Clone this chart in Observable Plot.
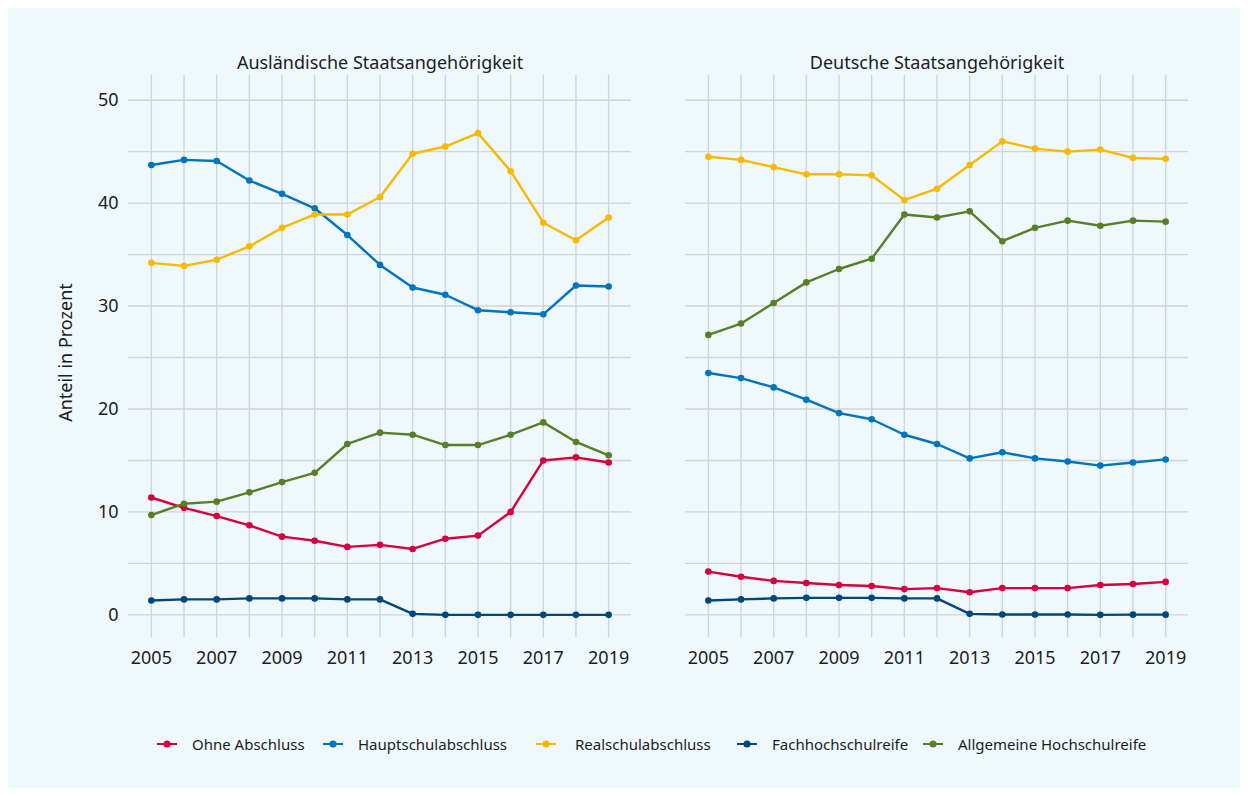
<!DOCTYPE html>
<html><head><meta charset="utf-8">
<script src="https://cdn.jsdelivr.net/npm/d3@7"></script>
<script src="https://cdn.jsdelivr.net/npm/@observablehq/plot@0.6"></script>
<style>
  html, body { margin: 0; padding: 0; background: #ffffff; }
  #panel { position: absolute; left: 8px; top: 8px; width: 1232px; height: 780px; background: #eff8fd; font-family: "Noto Sans", sans-serif; color: #1d1d1b; }
  #chart { position: absolute; left: 0; top: 0; }
  #legend { position: absolute; left: 149px; top: 726px; display: flex; align-items: center; font-size: 15px; height: 20px; }
  .item { display: flex; align-items: center; white-space: nowrap; }
  .item svg { margin-right: 15px; }
  .item:nth-child(1) { width: 166px; }
  .item:nth-child(2) { width: 213px; }
  .item:nth-child(3) { width: 201px; }
  .item:nth-child(3) svg { margin-right: 19px; }
  .item:nth-child(4) { width: 186px; }
</style>
</head><body>
<div id="panel"><div id="chart"></div><div id="legend"></div></div>
<script>
const years = [2005, 2006, 2007, 2008, 2009, 2010, 2011, 2012, 2013, 2014, 2015, 2016, 2017, 2018, 2019];
const xTickLabels = [2005, 2007, 2009, 2011, 2013, 2015, 2017, 2019];
const yGridValues = [0, 5, 10, 15, 20, 25, 30, 35, 40, 45, 50];
const yTickLabels = [0, 10, 20, 30, 40, 50];
const facets = ["Ausländische Staatsangehörigkeit", "Deutsche Staatsangehörigkeit"];
const seriesNames = ["Ohne Abschluss", "Hauptschulabschluss", "Realschulabschluss", "Fachhochschulreife", "Allgemeine Hochschulreife"];
const seriesColors = ["#d6003c", "#0074bc", "#f8b900", "#00477a", "#587e28"];
const yLabel = "Anteil in Prozent";

// Ausländische Staatsangehörigkeit
const auslOhne  = [11.4, 10.4, 9.6, 8.7, 7.6, 7.2, 6.6, 6.8, 6.4, 7.4, 7.7, 10.0, 15.0, 15.3, 14.8];
const auslHaupt = [43.7, 44.2, 44.1, 42.2, 40.9, 39.5, 36.9, 34.0, 31.8, 31.1, 29.6, 29.4, 29.2, 32.0, 31.9];
const auslReal  = [34.2, 33.9, 34.5, 35.8, 37.6, 38.9, 38.9, 40.6, 44.8, 45.5, 46.8, 43.1, 38.1, 36.4, 38.6];
const auslFach  = [1.4, 1.5, 1.5, 1.6, 1.6, 1.6, 1.5, 1.5, 0.1, 0.0, 0.0, 0.0, 0.0, 0.0, 0.0];
const auslAllg  = [9.7, 10.8, 11.0, 11.9, 12.9, 13.8, 16.6, 17.7, 17.5, 16.5, 16.5, 17.5, 18.7, 16.8, 15.5];

// Deutsche Staatsangehörigkeit
const deOhne  = [4.2, 3.7, 3.3, 3.1, 2.9, 2.8, 2.5, 2.6, 2.2, 2.6, 2.6, 2.6, 2.9, 3.0, 3.2];
const deHaupt = [23.5, 23.0, 22.1, 20.9, 19.6, 19.0, 17.5, 16.6, 15.2, 15.8, 15.2, 14.9, 14.5, 14.8, 15.1];
const deReal  = [44.5, 44.2, 43.5, 42.8, 42.8, 42.7, 40.3, 41.4, 43.7, 46.0, 45.3, 45.0, 45.2, 44.4, 44.3];
const deFach  = [1.4, 1.5, 1.6, 1.65, 1.65, 1.65, 1.6, 1.6, 0.1, 0.03, 0.03, 0.03, 0.0, 0.02, 0.02];
const deAllg  = [27.2, 28.3, 30.3, 32.3, 33.6, 34.6, 38.9, 38.6, 39.2, 36.3, 37.6, 38.3, 37.8, 38.3, 38.2];

const valuesByFacet = [
  [auslOhne, auslHaupt, auslReal, auslFach, auslAllg],
  [deOhne, deHaupt, deReal, deFach, deAllg]
];

const data = [];
valuesByFacet.forEach((group, fi) => {
  group.forEach((vals, si) => {
    vals.forEach((v, yi) => data.push({ nat: facets[fi], series: seriesNames[si], year: years[yi], value: v }));
  });
});

const gridColor = "#d2d5d7";

const chart = Plot.plot({
  width: 1232,
  height: 669,
  marginTop: 67,
  marginBottom: 40,
  marginLeft: 120,
  marginRight: 52,
  style: { background: "transparent", fontFamily: "Noto Sans, sans-serif", fontSize: "18px", color: "#1d1d1b" },
  x: { domain: [2004.3, 2019.7] },
  y: { domain: [-2.2, 52.4] },
  fx: { domain: facets, paddingInner: 0.097, paddingOuter: 0, axis: null, label: null },
  color: { domain: seriesNames, range: seriesColors },
  marks: [
    Plot.gridX(years, { stroke: gridColor, strokeOpacity: 1, strokeWidth: 1.4 }),
    Plot.gridY(yGridValues, { stroke: gridColor, strokeOpacity: 1, strokeWidth: 1.4 }),
    Plot.axisX(xTickLabels, { tickSize: 0, tickPadding: 14, tickFormat: d => String(d), label: null, fontSize: 18 }),
    Plot.axisY(yTickLabels, { tickSize: 0, tickPadding: 10, label: null, fontSize: 18 }),
    Plot.line(data, { fx: "nat", x: "year", y: "value", z: "series", stroke: "series", strokeWidth: 2.4 }),
    Plot.dot(data, { fx: "nat", x: "year", y: "value", fill: "series", r: 3.3 }),
    Plot.text(facets, { fx: d => d, text: d => d, frameAnchor: "top", dy: -19, fontSize: 18, fill: "#1d1d1b" }),
    Plot.text([yLabel], { fx: () => facets[0], text: d => d, frameAnchor: "left", textAnchor: "middle", rotate: -90, dx: -62, dy: -4, fontSize: 18, fill: "#1d1d1b" })
  ]
});
document.getElementById("chart").appendChild(chart);

const legend = document.getElementById("legend");
seriesNames.forEach((name, i) => {
  const item = document.createElement("div");
  item.className = "item";
  item.innerHTML = `<svg width="20" height="10" viewBox="0 0 20 10"><line x1="0" y1="5" x2="20" y2="5" stroke="${seriesColors[i]}" stroke-width="2"/><circle cx="10" cy="5" r="3.5" fill="${seriesColors[i]}"/></svg><span>${name}</span>`;
  legend.appendChild(item);
});
</script>
</body></html>
